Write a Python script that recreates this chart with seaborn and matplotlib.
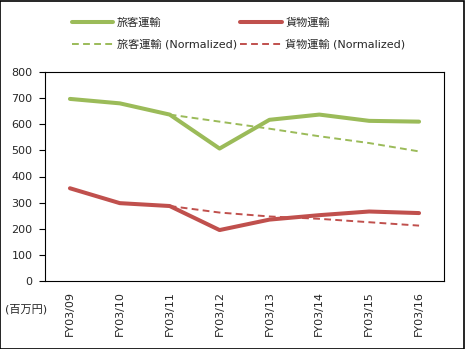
import matplotlib
matplotlib.use("Agg")
import matplotlib.pyplot as plt
import seaborn as sns
import pandas as pd
from matplotlib.patches import Rectangle

sns.set_style("white")
plt.rcParams['font.family'] = ['DejaVu Sans', 'Noto Sans CJK JP']

categories = ["FY03/09", "FY03/10", "FY03/11", "FY03/12", "FY03/13", "FY03/14", "FY03/15", "FY03/16"]
passenger = [697, 680, 637, 507, 617, 637, 613, 610]
freight = [355, 298, 287, 195, 235, 252, 266, 260]
norm_categories = ["FY03/11", "FY03/12", "FY03/13", "FY03/14", "FY03/15", "FY03/16"]
passenger_norm = [637, 610, 583, 554, 528, 496]
freight_norm = [287, 262, 247, 238, 225, 212]
yticks = [0, 100, 200, 300, 400, 500, 600, 700, 800]

GREEN = "#9BBB59"
RED = "#C0504D"
FS = 8

fig = plt.figure(figsize=(4.65, 3.49), dpi=100)
ax = fig.add_axes([45/465, 1-281/349, 399/465, 209/349])

df_p = pd.DataFrame({"x": categories, "y": passenger})
df_f = pd.DataFrame({"x": categories, "y": freight})
df_pn = pd.DataFrame({"x": norm_categories, "y": passenger_norm})
df_fn = pd.DataFrame({"x": norm_categories, "y": freight_norm})

sns.lineplot(data=df_p, x="x", y="y", ax=ax, color=GREEN, lw=2.9, sort=False, label="旅客運輸")
sns.lineplot(data=df_pn, x="x", y="y", ax=ax, color=GREEN, lw=1.4, sort=False, label="旅客運輸 (Normalized)",
             dashes=False, linestyle=(0, (3.5, 2.2)))
sns.lineplot(data=df_f, x="x", y="y", ax=ax, color=RED, lw=2.9, sort=False, label="貨物運輸")
sns.lineplot(data=df_fn, x="x", y="y", ax=ax, color=RED, lw=1.4, sort=False, label="貨物運輸 (Normalized)",
             dashes=False, linestyle=(0, (3.5, 2.2)))

ax.set_xlim(-0.5, len(categories) - 0.5)
ax.set_ylim(0, 800)
ax.set_yticks(yticks)
ax.set_yticklabels([str(v) for v in yticks], fontsize=FS)
ax.set_xticks(range(len(categories)))
ax.set_xticklabels(categories, rotation=90, fontsize=FS)
ax.tick_params(axis="x", length=0, pad=7)
ax.set_xticks([i - 0.5 for i in range(len(categories) + 1)], minor=True)
ax.tick_params(axis="x", which="minor", length=4, direction="out", width=0.8, color="black")
ax.tick_params(axis="y", length=4, direction="out", width=0.8, color="black", pad=5, left=True)
ax.set_xlabel("")
ax.set_ylabel("")
for s in ax.spines.values():
    s.set_visible(True)
    s.set_color("black")
    s.set_linewidth(0.8)

handles, labels = ax.get_legend_handles_labels()
ax.get_legend().remove()
fig.legend(handles, labels, ncol=2, frameon=False,
           loc="upper left", bbox_to_anchor=(62/465, 1-8/349), fontsize=FS, handlelength=3.7,
           columnspacing=0.3, labelspacing=0.95, handletextpad=0.35)

fig.text(5/465, 1-309/349, "(百万円)", fontsize=FS, va="center", ha="left")

fig.patches.append(Rectangle((0.001, 0.001), 0.997, 0.997, transform=fig.transFigure,
                             fill=False, edgecolor="black", linewidth=1.2))

fig.savefig("out.png", dpi=100)
